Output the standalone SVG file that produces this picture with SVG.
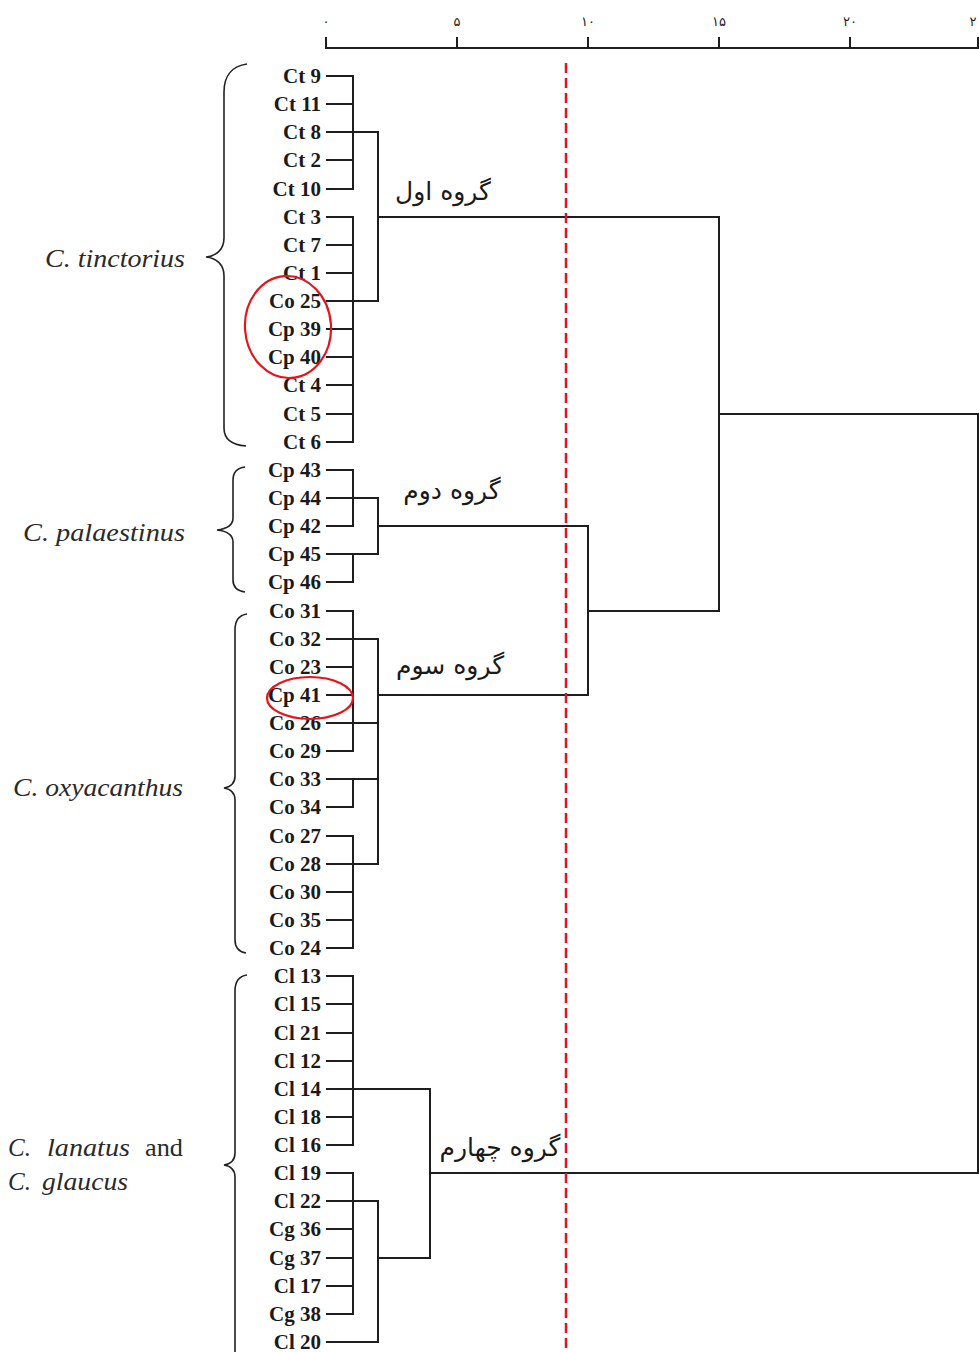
<svg xmlns="http://www.w3.org/2000/svg" width="979" height="1352" viewBox="0 0 979 1352">
<style>
.bg{fill:#ffffff}
.ln{stroke:#1e1e1e;stroke-width:2;fill:none;stroke-linecap:square}
.leaf{font-family:"Liberation Serif","Times New Roman",serif;font-weight:bold;font-size:21px;fill:#1a1a1a;text-anchor:end}
.sp{font-family:"Liberation Serif","Times New Roman",serif;font-style:italic;font-size:25px;fill:#2a2a2a}
.rg{font-family:"Liberation Serif","Times New Roman",serif;font-size:25px;fill:#2a2a2a}
.fa{font-family:"DejaVu Sans","Noto Sans",sans-serif;font-size:25px;fill:#1a1a1a;text-anchor:middle}
.ax{font-family:"DejaVu Sans","Noto Sans",sans-serif;font-size:13px;fill:#222;text-anchor:middle}
.brace{stroke:#222;stroke-width:1.6;fill:none}
.red{stroke:#e3141c;stroke-width:2.2;fill:none}
.cut{stroke:#e3141c;stroke-width:2.5;stroke-dasharray:10 5;fill:none}
</style>
<rect class="bg" x="0" y="0" width="979" height="1352"/>

<g id="axis">
<line class="ln" x1="326" y1="48" x2="979" y2="48"/>
<line class="ln" x1="326" y1="38" x2="326" y2="48"/>
<line class="ln" x1="457" y1="38" x2="457" y2="48"/>
<line class="ln" x1="588" y1="38" x2="588" y2="48"/>
<line class="ln" x1="719" y1="38" x2="719" y2="48"/>
<line class="ln" x1="850" y1="38" x2="850" y2="48"/>
<line class="ln" x1="978" y1="38" x2="978" y2="48"/>
<text class="ax" x="326" y="26">۰</text>
<text class="ax" x="457" y="26">۵</text>
<text class="ax" x="588" y="26">۱۰</text>
<text class="ax" x="719" y="26">۱۵</text>
<text class="ax" x="850" y="26">۲۰</text>
<text class="ax" x="973" y="26">۲</text>
</g>

<g id="leaves">
<g id="leaf-ct9"><text class="leaf" x="321" y="83">Ct 9</text><line class="ln" x1="327" y1="76" x2="353" y2="76"/></g>
<g id="leaf-ct11"><text class="leaf" x="321" y="111">Ct 11</text><line class="ln" x1="327" y1="104" x2="353" y2="104"/></g>
<g id="leaf-ct8"><text class="leaf" x="321" y="139">Ct 8</text><line class="ln" x1="327" y1="132" x2="378" y2="132"/></g>
<g id="leaf-ct2"><text class="leaf" x="321" y="167">Ct 2</text><line class="ln" x1="327" y1="160" x2="353" y2="160"/></g>
<g id="leaf-ct10"><text class="leaf" x="321" y="196">Ct 10</text><line class="ln" x1="327" y1="189" x2="353" y2="189"/></g>
<g id="leaf-ct3"><text class="leaf" x="321" y="224">Ct 3</text><line class="ln" x1="327" y1="217" x2="353" y2="217"/></g>
<g id="leaf-ct7"><text class="leaf" x="321" y="252">Ct 7</text><line class="ln" x1="327" y1="245" x2="353" y2="245"/></g>
<g id="leaf-ct1"><text class="leaf" x="321" y="280">Ct 1</text><line class="ln" x1="327" y1="273" x2="353" y2="273"/></g>
<g id="leaf-co25"><text class="leaf" x="321" y="308">Co 25</text><line class="ln" x1="327" y1="301" x2="378" y2="301"/></g>
<g id="leaf-cp39"><text class="leaf" x="321" y="336">Cp 39</text><line class="ln" x1="327" y1="329" x2="353" y2="329"/></g>
<g id="leaf-cp40"><text class="leaf" x="321" y="364">Cp 40</text><line class="ln" x1="327" y1="357" x2="353" y2="357"/></g>
<g id="leaf-ct4"><text class="leaf" x="321" y="392">Ct 4</text><line class="ln" x1="327" y1="385" x2="353" y2="385"/></g>
<g id="leaf-ct5"><text class="leaf" x="321" y="421">Ct 5</text><line class="ln" x1="327" y1="414" x2="353" y2="414"/></g>
<g id="leaf-ct6"><text class="leaf" x="321" y="449">Ct 6</text><line class="ln" x1="327" y1="442" x2="353" y2="442"/></g>
<g id="leaf-cp43"><text class="leaf" x="321" y="477">Cp 43</text><line class="ln" x1="327" y1="470" x2="353" y2="470"/></g>
<g id="leaf-cp44"><text class="leaf" x="321" y="505">Cp 44</text><line class="ln" x1="327" y1="498" x2="378" y2="498"/></g>
<g id="leaf-cp42"><text class="leaf" x="321" y="533">Cp 42</text><line class="ln" x1="327" y1="526" x2="353" y2="526"/></g>
<g id="leaf-cp45"><text class="leaf" x="321" y="561">Cp 45</text><line class="ln" x1="327" y1="554" x2="378" y2="554"/></g>
<g id="leaf-cp46"><text class="leaf" x="321" y="589">Cp 46</text><line class="ln" x1="327" y1="582" x2="353" y2="582"/></g>
<g id="leaf-co31"><text class="leaf" x="321" y="618">Co 31</text><line class="ln" x1="327" y1="611" x2="353" y2="611"/></g>
<g id="leaf-co32"><text class="leaf" x="321" y="646">Co 32</text><line class="ln" x1="327" y1="639" x2="378" y2="639"/></g>
<g id="leaf-co23"><text class="leaf" x="321" y="674">Co 23</text><line class="ln" x1="327" y1="667" x2="353" y2="667"/></g>
<g id="leaf-cp41"><text class="leaf" x="321" y="702">Cp 41</text><line class="ln" x1="327" y1="695" x2="353" y2="695"/></g>
<g id="leaf-co26"><text class="leaf" x="321" y="730">Co 26</text><line class="ln" x1="327" y1="723" x2="378" y2="723"/></g>
<g id="leaf-co29"><text class="leaf" x="321" y="758">Co 29</text><line class="ln" x1="327" y1="751" x2="353" y2="751"/></g>
<g id="leaf-co33"><text class="leaf" x="321" y="786">Co 33</text><line class="ln" x1="327" y1="779" x2="378" y2="779"/></g>
<g id="leaf-co34"><text class="leaf" x="321" y="814">Co 34</text><line class="ln" x1="327" y1="807" x2="353" y2="807"/></g>
<g id="leaf-co27"><text class="leaf" x="321" y="843">Co 27</text><line class="ln" x1="327" y1="836" x2="353" y2="836"/></g>
<g id="leaf-co28"><text class="leaf" x="321" y="871">Co 28</text><line class="ln" x1="327" y1="864" x2="378" y2="864"/></g>
<g id="leaf-co30"><text class="leaf" x="321" y="899">Co 30</text><line class="ln" x1="327" y1="892" x2="353" y2="892"/></g>
<g id="leaf-co35"><text class="leaf" x="321" y="927">Co 35</text><line class="ln" x1="327" y1="920" x2="353" y2="920"/></g>
<g id="leaf-co24"><text class="leaf" x="321" y="955">Co 24</text><line class="ln" x1="327" y1="948" x2="353" y2="948"/></g>
<g id="leaf-cl13"><text class="leaf" x="321" y="983">Cl 13</text><line class="ln" x1="327" y1="976" x2="353" y2="976"/></g>
<g id="leaf-cl15"><text class="leaf" x="321" y="1011">Cl 15</text><line class="ln" x1="327" y1="1004" x2="353" y2="1004"/></g>
<g id="leaf-cl21"><text class="leaf" x="321" y="1040">Cl 21</text><line class="ln" x1="327" y1="1033" x2="353" y2="1033"/></g>
<g id="leaf-cl12"><text class="leaf" x="321" y="1068">Cl 12</text><line class="ln" x1="327" y1="1061" x2="353" y2="1061"/></g>
<g id="leaf-cl14"><text class="leaf" x="321" y="1096">Cl 14</text><line class="ln" x1="327" y1="1089" x2="430" y2="1089"/></g>
<g id="leaf-cl18"><text class="leaf" x="321" y="1124">Cl 18</text><line class="ln" x1="327" y1="1117" x2="353" y2="1117"/></g>
<g id="leaf-cl16"><text class="leaf" x="321" y="1152">Cl 16</text><line class="ln" x1="327" y1="1145" x2="353" y2="1145"/></g>
<g id="leaf-cl19"><text class="leaf" x="321" y="1180">Cl 19</text><line class="ln" x1="327" y1="1173" x2="353" y2="1173"/></g>
<g id="leaf-cl22"><text class="leaf" x="321" y="1208">Cl 22</text><line class="ln" x1="327" y1="1201" x2="378" y2="1201"/></g>
<g id="leaf-cg36"><text class="leaf" x="321" y="1236">Cg 36</text><line class="ln" x1="327" y1="1229" x2="353" y2="1229"/></g>
<g id="leaf-cg37"><text class="leaf" x="321" y="1265">Cg 37</text><line class="ln" x1="327" y1="1258" x2="353" y2="1258"/></g>
<g id="leaf-cl17"><text class="leaf" x="321" y="1293">Cl 17</text><line class="ln" x1="327" y1="1286" x2="353" y2="1286"/></g>
<g id="leaf-cg38"><text class="leaf" x="321" y="1321">Cg 38</text><line class="ln" x1="327" y1="1314" x2="353" y2="1314"/></g>
<g id="leaf-cl20"><text class="leaf" x="321" y="1349">Cl 20</text><line class="ln" x1="327" y1="1342" x2="378" y2="1342"/></g>
</g>

<g id="connectors">
<path class="ln" d="M353,76 V189"/>
<path class="ln" d="M353,217 V442"/>
<path class="ln" d="M378,132 V301"/>
<path class="ln" d="M378,217 H719"/>
<path class="ln" d="M353,470 V526"/>
<path class="ln" d="M353,554 V582"/>
<path class="ln" d="M378,498 V554"/>
<path class="ln" d="M378,526 H588"/>
<path class="ln" d="M353,611 V751"/>
<path class="ln" d="M353,779 V807"/>
<path class="ln" d="M353,836 V948"/>
<path class="ln" d="M378,639 V864"/>
<path class="ln" d="M378,695 H588"/>
<path class="ln" d="M588,526 V695"/>
<path class="ln" d="M588,611 H719"/>
<path class="ln" d="M719,217 V611"/>
<path class="ln" d="M719,414 H978 V1173"/>
<path class="ln" d="M353,976 V1145"/>
<path class="ln" d="M430,1089 V1258"/>
<path class="ln" d="M353,1173 V1314"/>
<path class="ln" d="M378,1201 V1342"/>
<path class="ln" d="M378,1258 H430"/>
<path class="ln" d="M430,1173 H978"/>
</g>

<g id="cut-line">
<line class="cut" x1="566" y1="63" x2="566" y2="1352"/>
</g>

<g id="group-labels">
<text id="g1" class="fa" x="443" y="200">گروه اول</text>
<text id="g2" class="fa" x="452" y="499">گروه دوم</text>
<text id="g3" class="fa" x="450" y="674">گروه سوم</text>
<text id="g4" class="fa" x="500" y="1156">گروه چهارم</text>
</g>

<g id="highlights">
<ellipse class="red" cx="288" cy="327" rx="43" ry="51" transform="rotate(-4 288 327)"/>
<ellipse class="red" cx="310" cy="698" rx="43" ry="21"/>
</g>

<g id="species">
<g id="sp-tinctorius">
<path class="brace" d="M247,64 C232,66 224,76 224,92 L224,238 C224,250 216,256 206,257 C216,258 224,264 224,276 L224,428 C224,440 232,445 246,446"/>
<text class="sp" x="45" y="267" textLength="140" lengthAdjust="spacingAndGlyphs">C. tinctorius</text>
</g>
<g id="sp-palaestinus">
<path class="brace" d="M245,467 C238,468 233,472 233,480 L233,518 C233,526 226,529 217,530 C226,531 233,534 233,542 L233,580 C233,588 238,591 245,592"/>
<text class="sp" x="23" y="541" textLength="162" lengthAdjust="spacingAndGlyphs">C. palaestinus</text>
</g>
<g id="sp-oxyacanthus">
<path class="brace" d="M247,614 C240,615 235,620 235,630 L235,776 C235,784 230,787 224,788 C230,789 235,792 235,800 L235,940 C235,948 240,952 246,953"/>
<text class="sp" x="13" y="796" textLength="170" lengthAdjust="spacingAndGlyphs">C. oxyacanthus</text>
</g>
<g id="sp-lanatus-glaucus">
<path class="brace" d="M247,975 C240,976 235,981 235,991 L235,1153 C235,1161 230,1164 224,1165 C230,1166 235,1169 235,1177 L235,1352"/>
<text class="sp" x="8" y="1156">C.</text>
<text class="sp" x="47" y="1156" textLength="83" lengthAdjust="spacingAndGlyphs">lanatus</text>
<text class="rg" x="145" y="1156" textLength="38" lengthAdjust="spacingAndGlyphs">and</text>
<text class="sp" x="8" y="1190">C.</text>
<text class="sp" x="42" y="1190" textLength="86" lengthAdjust="spacingAndGlyphs">glaucus</text>
</g>
</g>
</svg>
